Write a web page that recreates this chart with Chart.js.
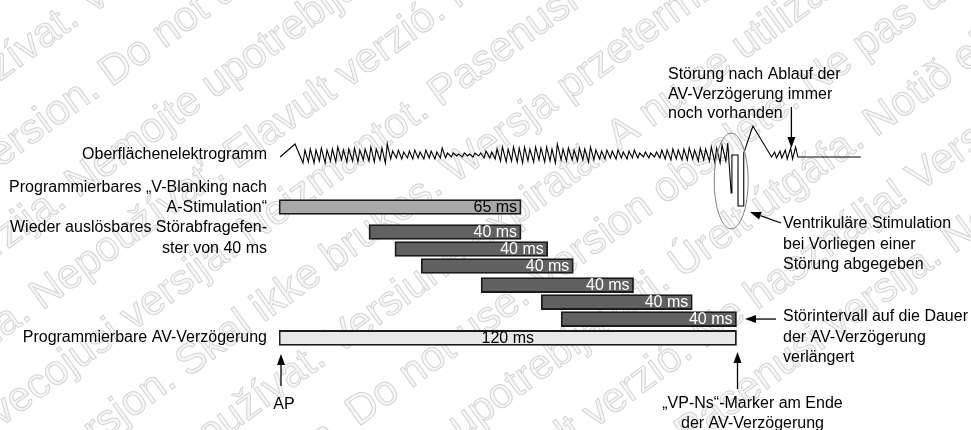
<!DOCTYPE html>
<html>
<head>
<meta charset="utf-8">
<script src="https://cdn.jsdelivr.net/npm/chart.js@4"></script>
<style>
  body { margin: 0; background: #fff; }
  canvas { display: block; }
</style>
</head>
<body>
<canvas id="timingChart" width="971" height="430"></canvas>
<script>
// Zeitachse in ms (0 = AP)
const rowLabels = [
    'Oberflächenelektrogramm',
    ['Programmierbares „V-Blanking nach', 'A-Stimulation“'],
    ['Wieder auslösbares Störabfragefen-', 'ster von 40 ms'],
    'Programmierbare AV-Verzögerung'
];
const rowLabelLane = [0, 2.5, 4.88, 10.76];

// Balken: Blanking, 6 Störabfragefenster, AV-Verzögerung
const barLane  = [3.06, 4.53, 5.53, 6.53, 7.65, 8.65, 9.65, 10.76];
const barStart = [0, 23.6, 30.4, 37.3, 53.0, 68.8, 74.0, 0];
const barEnd   = [63.5, 63.5, 70.5, 77.2, 93.0, 108.4, 120.0, 120.0];
const barText  = ['65 ms', '40 ms', '40 ms', '40 ms', '40 ms', '40 ms', '40 ms', '120 ms'];

// Oberflächen-EKG [ms, Amplitude]
const ecgTrace = [
    [0.3, -0.2], [4.2, 1.1],
    [6.3, -0.8], [6.8, 0.5], [7.7, -0.7], [8.2, 0.6], [9.2, -0.8], [9.7, 0.5], [10.6, -0.6], [11.1, 0.7],
    [12.1, -0.8], [12.6, 0.5], [13.5, -0.6], [14.0, 0.6], [14.9, -0.7], [15.4, 0.8], [16.4, -0.5], [16.9, 0.5],
    [17.8, -0.7], [18.3, 0.6], [19.3, -0.6], [19.8, 0.7], [20.7, -0.7], [21.2, 0.5], [22.1, -0.5], [22.6, 0.6],
    [23.6, -0.6], [24.1, 0.8], [25.0, -0.7], [25.5, 0.6], [26.5, -0.5], [27.0, 0.7], [27.9, -0.8], [28.4, 1.1],
    [29.3, -0.4], [29.8, 0.4], [30.8, -0.3], [31.3, 0.5], [32.2, -0.4], [32.7, 0.3], [33.7, -0.3], [34.2, 0.4],
    [35.1, -0.4], [35.6, 0.5], [36.5, -0.3], [37.0, 0.3], [38.0, -0.4], [38.5, 0.5], [39.4, -0.3], [39.9, 0.4],
    [40.9, -0.4], [41.4, 0.3], [42.3, -0.3], [42.8, 0.7], [43.7, -0.3], [44.2, 0.2], [45.2, -0.2], [45.7, 0.2],
    [46.6, -0.1], [47.1, 0.1], [48.1, -0.2], [48.6, 0.2], [49.5, -0.1], [50.0, 0.1], [50.9, -0.2], [51.4, 0.2],
    [52.4, -0.1], [52.9, 0.2], [53.8, -0.3], [54.3, 0.4], [55.3, -0.3], [55.8, 0.3], [56.7, -0.4], [57.2, 0.6],
    [58.1, -0.6], [58.6, 0.8], [59.6, -0.7], [60.1, 0.6], [61.0, -0.6], [61.5, 0.8], [62.5, -0.7], [63.0, 0.7],
    [63.9, -0.8], [64.4, 0.8], [65.3, -0.6], [65.8, 0.6], [66.8, -0.7], [67.3, 0.8], [68.2, -0.5], [68.7, 0.7],
    [69.7, -0.7], [70.2, 0.8], [71.1, -0.6], [71.6, 0.6], [72.5, -0.8], [73.0, 1.1], [74.0, -0.5], [74.5, 0.6],
    [75.4, -0.6], [75.9, 0.7], [76.9, -0.5], [77.4, 0.5], [78.3, -0.6], [78.8, 0.7], [79.7, -0.5], [80.2, 0.6],
    [81.2, -0.7], [81.7, 0.8], [82.6, -0.5], [83.1, 0.5], [84.1, -0.4], [84.6, 0.4], [85.5, -0.4], [86.0, 0.5],
    [86.9, -0.3], [87.4, 0.4], [88.4, -0.4], [88.9, 0.5], [89.8, -0.3], [90.3, 0.3], [91.3, -0.4], [91.8, 0.4],
    [92.7, -0.3], [93.2, 0.5], [94.1, -0.3], [94.6, 0.2], [95.6, -0.2], [96.1, 0.3], [97.0, -0.3], [97.5, 0.2],
    [98.5, -0.2], [99.0, 0.3], [99.9, -0.3], [100.4, 0.5], [101.3, -0.4], [101.8, 0.5], [102.8, -0.5], [103.3, 0.6],
    [104.2, -0.4], [104.7, 0.5], [105.7, -0.5], [106.2, 0.6], [107.1, -0.5], [107.6, 0.7], [108.5, -0.4], [109.0, 0.5],
    [110.0, -0.6], [110.5, 0.7], [111.4, -0.5], [111.9, 0.6], [112.9, -0.6], [113.4, 0.8], [114.3, -0.7], [114.8, 0.7],
    [115.7, -0.8], [116.2, 1.0], [117.2, -0.6], [117.7, 1.2],
    // ventrikuläre Stimulation
    [118.6, -3.8], [118.8, 0.0], [120.4, 0.0], [120.4, -5.1], [121.9, -5.1], [121.9, 0.2], [124.3, 2.9], [129.2, -0.2],
    [130.0, 0.3], [130.5, -0.3], [131.4, 0.4], [131.9, -0.3], [132.8, 0.5], [133.3, -0.4], [134.2, 0.7], [134.7, -0.4],
    [135.5, 0.8], [136.1, -0.2], [152.6, -0.2]
];

const watermarkPhrases = [
    'Outdated version. Do not use.', 'Version obsolète. Ne pas utiliser.', 'Versión obsoleta. No utilizar.',
    'Zastarjela verzija. Nemojte upotrebljavati.', 'Úrelt útgáfa. Notið ekki.', 'Version périmée. Ne pas utiliser.',
    'Zastaraná verzia. Nepoužívať.', 'Elavult verzió. Ne használja!', 'Versione obsoleta. Non utilizzare.',
    'Novecojusi versija. Neizmantot.', 'Pasenusi versija. Nenaudokite.', 'Verouderde versie. Niet gebruiken.',
    'Foreldet versjon. Skal ikke brukes.', 'Wersja przeterminowana. Nie używać.', 'Versão obsoleta. Não utilizar.',
    'Zastaralá verze. Nepoužívat.', 'Versiune expirată. A nu se utiliza.', 'Aegunud versioon. Ärge kasutage.'
];

const FONT = 'Liberation Sans, Arial, sans-serif';

function arrow(ctx, x1, y1, x2, y2) {
    const a = Math.atan2(y2 - y1, x2 - x1);
    const len = 11, w = 4;
    ctx.beginPath();
    ctx.moveTo(x1, y1);
    ctx.lineTo(x2 - Math.cos(a) * len, y2 - Math.sin(a) * len);
    ctx.stroke();
    ctx.beginPath();
    ctx.moveTo(x2, y2);
    ctx.lineTo(x2 - Math.cos(a) * len - Math.sin(a) * w, y2 - Math.sin(a) * len + Math.cos(a) * w);
    ctx.lineTo(x2 - Math.cos(a) * len + Math.sin(a) * w, y2 - Math.sin(a) * len - Math.cos(a) * w);
    ctx.closePath();
    ctx.fill();
}

function lines(ctx, arr, x, y, step) {
    arr.forEach((t, i) => ctx.fillText(t, x, y + i * step));
}

const watermark = {
    id: 'watermark',
    beforeDraw(chart) {
        const ctx = chart.ctx;
        ctx.save();
        ctx.font = '42px ' + FONT;
        ctx.textBaseline = 'middle';
        ctx.fillStyle = '#f7f7f7';
        ctx.strokeStyle = '#d4d4d4';
        ctx.lineWidth = 1;
        const ang = -36 * Math.PI / 180;
        const nx = -Math.sin(ang), ny = Math.cos(ang);
        for (let r = 0; r < 16; r++) {
            ctx.save();
            ctx.translate(-420 + r * 70 * nx, -60 + r * 70 * ny);
            ctx.rotate(ang);
            let txt = '';
            for (let k = 0; k < 5; k++) txt += watermarkPhrases[(r * 3 + k) % watermarkPhrases.length] + ' ';
            ctx.fillText(txt, (r % 3) * -90, 0);
            ctx.strokeText(txt, (r % 3) * -90, 0);
            ctx.restore();
        }
        ctx.restore();
    }
};

const annotations = {
    id: 'annotations',
    afterDatasetsDraw(chart) {
        const ctx = chart.ctx;
        const xs = chart.scales.x;
        const ys = chart.scales.y;
        const ye = chart.scales.ye;

        // Beschriftung in den Balken
        const meta = chart.getDatasetMeta(0);
        ctx.save();
        ctx.font = '16px ' + FONT;
        ctx.textBaseline = 'middle';
        meta.data.forEach((bar, i) => {
            const left = Math.min(bar.x, bar.base), right = Math.max(bar.x, bar.base);
            if (i === barText.length - 1) {
                ctx.fillStyle = '#000';
                ctx.textAlign = 'center';
                ctx.fillText(barText[i], (left + right) / 2, bar.y + 1);
            } else {
                ctx.fillStyle = i === 0 ? '#000' : '#fff';
                ctx.textAlign = 'right';
                ctx.fillText(barText[i], right - 4, bar.y + 1);
            }
        });

        // Ellipse um Stimulation
        const cx = xs.getPixelForValue(118.6);
        const cy = ye.getPixelForValue(-2.6);
        ctx.strokeStyle = '#808080';
        ctx.lineWidth = 1;
        ctx.beginPath();
        ctx.ellipse(cx, cy, 17, 48, 0, 0, Math.PI * 2);
        ctx.stroke();

        // Pfeile
        ctx.strokeStyle = '#000';
        ctx.fillStyle = '#000';
        ctx.lineWidth = 1.3;
        const x0 = xs.getPixelForValue(0);
        const xAV = xs.getPixelForValue(120);
        arrow(ctx, x0 + 2, 386, x0 + 2, 354);
        arrow(ctx, xAV + 1, 389, xAV + 1, 352);
        const yLast = ys.getPixelForValue(barLane[6]);
        arrow(ctx, 776, yLast, 745, yLast);
        arrow(ctx, 781, 223, 750, 212);
        const xDist = xs.getPixelForValue(134.4);
        arrow(ctx, xDist, 107, xDist, 148);

        // Texte
        ctx.fillStyle = '#000';
        ctx.textAlign = 'left';
        ctx.textBaseline = 'middle';
        lines(ctx, ['Störung nach Ablauf der', 'AV-Verzögerung immer', 'noch vorhanden'], 668, 75, 19.5);
        lines(ctx, ['Ventrikuläre Stimulation', 'bei Vorliegen einer', 'Störung abgegeben'], 783, 224, 20.5);
        lines(ctx, ['Störintervall auf die Dauer', 'der AV-Verzögerung', 'verlängert'], 783, 317, 20.5);
        ctx.textAlign = 'center';
        ctx.fillText('AP', x0 + 5, 405);
        lines(ctx, ['„VP-Ns“-Marker am Ende', 'der AV-Verzögerung'], xAV + 16, 404, 19.5);
        ctx.restore();
    }
};

const ctx = document.getElementById('timingChart').getContext('2d');
new Chart(ctx, {
    type: 'bar',
    data: {
        datasets: [{
            label: 'Intervalle',
            yAxisID: 'y',
            data: barStart.map((s, i) => ({ x: [s, barEnd[i]], y: barLane[i] })),
            backgroundColor: c => c.dataIndex === 0 ? '#a8a8a8' : (c.dataIndex === barStart.length - 1 ? '#e8e8e8' : '#616161'),
            borderColor: '#1a1a1a',
            borderWidth: 1.8,
            borderSkipped: false,
            grouped: false,
            categoryPercentage: 1,
            barPercentage: 1,
            maxBarThickness: 15
        }, {
            type: 'line',
            label: 'Oberflächenelektrogramm',
            indexAxis: 'x',
            xAxisID: 'x',
            yAxisID: 'ye',
            data: ecgTrace.map(p => ({ x: p[0], y: p[1] })),
            borderColor: '#000',
            borderWidth: 1.1,
            pointRadius: 0,
            tension: 0,
            fill: false
        }]
    },
    options: {
        indexAxis: 'y',
        responsive: false,
        maintainAspectRatio: false,
        animation: false,
        layout: { padding: { left: 0, right: 82, top: 53, bottom: 20 } },
        plugins: { legend: { display: false }, tooltip: { enabled: false } },
        scales: {
            x: { type: 'linear', min: 0, max: 160, offset: false, display: false },
            y: {
                type: 'linear', position: 'left', min: -6, max: 15, reverse: true, offset: false,
                grid: { display: false, drawTicks: false },
                border: { display: false },
                afterFit: axis => {
                    axis.width = 279;
                    axis.paddingTop = 0;
                    axis.paddingBottom = 0;
                },
                afterBuildTicks: axis => { axis.ticks = rowLabelLane.map(v => ({ value: v })); },
                ticks: {
                    autoSkip: false,
                    padding: 12,
                    color: '#000',
                    font: { family: FONT, size: 16, lineHeight: 1.28 },
                    callback: value => rowLabels[rowLabelLane.indexOf(value)]
                }
            },
            ye: { type: 'linear', axis: 'y', position: 'right', min: -25.5, max: 10.2, offset: false, display: false }
        }
    },
    plugins: [watermark, annotations]
});
</script>
</body>
</html>
